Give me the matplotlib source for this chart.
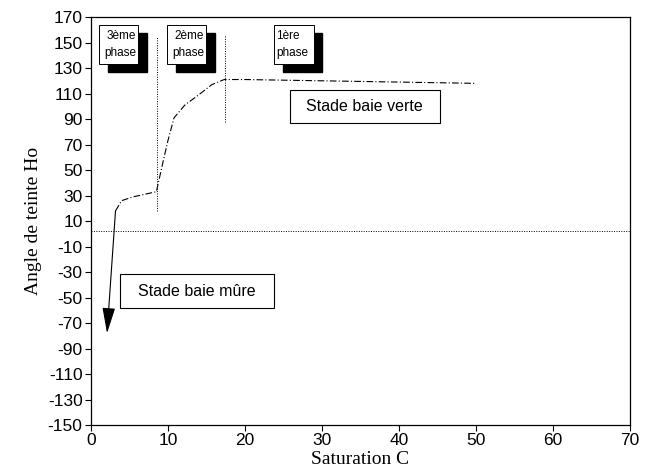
import matplotlib.pyplot as plt
from matplotlib.patches import Rectangle

# curve
sat = [3.2, 4.0, 5.5, 7.0, 8.5, 9.5, 10.0, 10.8, 12.2, 14.0, 15.7, 17.3, 20, 30, 40, 50]
hue = [18, 26, 29, 31, 33, 60, 73, 91, 101, 109, 117, 121, 121, 120, 119, 118]
arrow_start = (3.2, 18)
arrow_end = (2.1, -78)
ref_line = 2
phase_x = [8.6, 17.4]
phase_lo = [18, 88]
phase_hi = [155, 155]
phase_labels = ['3ème\nphase', '2ème\nphase', '1ère\nphase']
xticks = list(range(0, 71, 10))
yticks = list(range(-150, 171, 20))

plt.rcParams['font.family'] = ['Liberation Sans', 'DejaVu Sans']
plt.rcParams['axes.unicode_minus'] = False

fig = plt.figure(figsize=(6.49, 4.70), dpi=100)
ax = fig.add_axes([0.140, 0.0957, 0.831, 0.868])
ax.set_xlim(0, 70)
ax.set_ylim(-150, 170)
ax.set_xticks(xticks)
ax.set_yticks(yticks)
ax.tick_params(direction='out', length=4, width=0.8, labelsize=12.5, pad=2)
for s in ax.spines.values():
    s.set_linewidth(0.9)

ax.set_xlabel('Saturation C', family='Liberation Serif', fontsize=14, labelpad=2)
ax.set_ylabel('Angle de teinte Ho', family='Liberation Serif', fontsize=14, labelpad=4)

ax.axhline(ref_line, color='black', lw=0.7, ls=(0, (1, 1.5)))
for x, lo, hi in zip(phase_x, phase_lo, phase_hi):
    ax.plot([x, x], [lo, hi], color='black', lw=0.7, ls=(0, (1, 1.5)))

ax.plot(sat, hue, color='black', lw=0.8, ls=(0, (6, 2, 1, 2)))
ax.annotate('', xy=arrow_end, xytext=arrow_start,
            arrowprops=dict(arrowstyle='-|>,head_length=1.6,head_width=0.4',
                            color='black', lw=0.8, shrinkA=0, shrinkB=0))

# phase boxes with shadow
box_x = [1.04, 9.87, 23.8]
aligns = ['right', 'right', 'left']
for x0, lab, al in zip(box_x, phase_labels, aligns):
    w, h = 5.1, 30.5
    ax.add_patch(Rectangle((x0 + 1.15, 133.1 - 6.0), w, h, color='black', zorder=3))
    ax.add_patch(Rectangle((x0, 133.1), w, h, facecolor='white', edgecolor='black',
                           lw=0.7, zorder=4))
    tx = x0 + w - 0.3 if al == 'right' else x0 + 0.3
    ax.text(tx, 133.1 + h / 2, lab, ha=al, va='center', fontsize=8.5,
            linespacing=1.5, multialignment=al, zorder=5)

for (x0, y0, x1, y1), lab in [((25.8, 86.9, 45.3, 112.7), 'Stade baie verte'),
                              ((3.8, -58.2, 23.8, -31.6), 'Stade baie mûre')]:
    ax.add_patch(Rectangle((x0, y0), x1 - x0, y1 - y0, facecolor='white',
                           edgecolor='black', lw=0.8, zorder=4))
    ax.text((x0 + x1) / 2, (y0 + y1) / 2, lab, ha='center', va='center',
            fontsize=11.5, zorder=5)

fig.savefig('out.png', dpi=100)
